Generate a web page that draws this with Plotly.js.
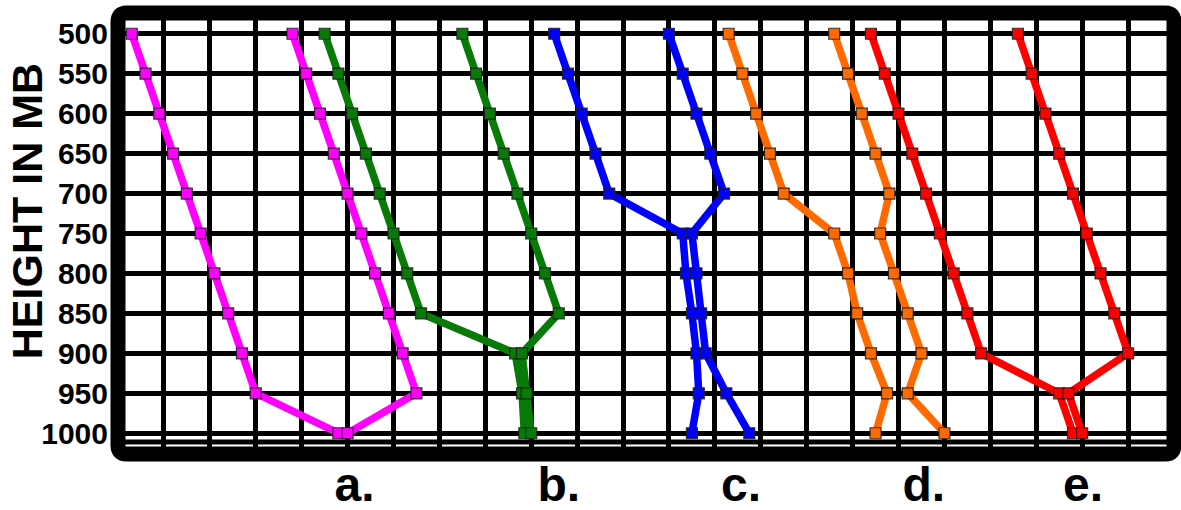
<!DOCTYPE html>
<html lang="en">
<head>
  <meta charset="UTF-8">
  <title>Height in MB soundings</title>
  <script src="https://cdn.plot.ly/plotly-3.0.1.min.js"></script>
  <style>
    body {
      margin: 0;
      background-color: #ffffff;
      font-family: "Liberation Sans", Arial, sans-serif;
    }
    #chart {
      width: 1181px;
      height: 510px;
    }
  </style>
</head>
<body>
  <div id="chart"></div>

  <script>
    // Pressure levels (mb), top of chart to bottom
    const levels = [500, 550, 600, 650, 700, 750, 800, 850, 900, 950, 1000];

    // Horizontal values in grid squares, one pair of curves per panel
    const aLeft  = [-0.7, -0.4, -0.1, 0.2, 0.5, 0.8, 1.1, 1.4, 1.7, 2.0, 3.8];
    const aRight = [2.8, 3.1, 3.4, 3.7, 4.0, 4.3, 4.6, 4.9, 5.2, 5.5, 4.0];
    const bLeft  = [3.5, 3.8, 4.1, 4.4, 4.7, 5.0, 5.3, 5.6, 7.65, 7.8, 7.85];
    const bRight = [6.5, 6.8, 7.1, 7.4, 7.7, 8.0, 8.3, 8.6, 7.8, 7.9, 8.0];
    const cLeft  = [8.5, 8.8, 9.1, 9.4, 9.7, 11.3, 11.37, 11.5, 11.6, 11.65, 11.5];
    const cRight = [11.0, 11.3, 11.6, 11.9, 12.2, 11.5, 11.6, 11.7, 11.8, 12.25, 12.75];
    const dLeft  = [12.3, 12.6, 12.9, 13.2, 13.5, 14.6, 14.9, 15.1, 15.4, 15.75, 15.5];
    const dRight = [14.6, 14.9, 15.2, 15.5, 15.8, 15.6, 15.9, 16.2, 16.5, 16.2, 17.0];
    const eLeft  = [15.4, 15.7, 16.0, 16.3, 16.6, 16.9, 17.2, 17.5, 17.8, 19.5, 19.8];
    const eRight = [18.6, 18.9, 19.2, 19.5, 19.8, 20.1, 20.4, 20.7, 21.0, 19.7, 20.0];

    // Panel labels along the bottom
    const panelLabels = ["a.", "b.", "c.", "d.", "e."];
    const panelPos = [4.15, 8.6, 12.57, 16.55, 20.02];

    const yTicks = [500, 550, 600, 650, 700, 750, 800, 850, 900, 950, 1000];

    const series = [
      { x: aLeft, color: "#ff00ff" },
      { x: aRight, color: "#ff00ff" },
      { x: bLeft, color: "#087a08" },
      { x: bRight, color: "#087a08" },
      { x: cLeft, color: "#0000ff" },
      { x: cRight, color: "#0000ff" },
      { x: dLeft, color: "#ff6a00" },
      { x: dRight, color: "#ff6a00" },
      { x: eLeft, color: "#ff0000" },
      { x: eRight, color: "#ff0000" },
    ];

    const traces = series.map((s) => ({
      x: s.x,
      y: levels,
      type: "scatter",
      mode: "lines+markers",
      line: { color: s.color, width: 7.5 },
      marker: {
        symbol: "square",
        size: 11,
        color: s.color,
        line: { color: "rgba(30,30,30,0.85)", width: 1.2 },
      },
      hoverinfo: "skip",
    }));

    // invisible trace so the label axis gets drawn
    traces.push({ x: panelPos, y: [1000, 1000, 1000, 1000, 1000], xaxis: "x2", mode: "markers", marker: { opacity: 0 }, hoverinfo: "skip" });

    const font = "Liberation Sans, Arial, sans-serif";
    const gridW = 5;

    const layout = {
      width: 1181,
      height: 510,
      margin: { l: 118, r: 7, t: 13, b: 56 },
      paper_bgcolor: "#ffffff",
      plot_bgcolor: "#ffffff",
      showlegend: false,
      xaxis: {
        range: [-1, 22],
        dtick: 1,
        tick0: 0,
        showgrid: true,
        gridcolor: "#000000",
        gridwidth: gridW,
        zeroline: false,
        showticklabels: false,
        ticks: "",
      },
      xaxis2: {
        overlaying: "x",
        side: "bottom",
        range: [-1, 22],
        tickmode: "array",
        tickvals: panelPos,
        ticktext: panelLabels,
        showgrid: false,
        zeroline: false,
        ticks: "",
        ticklabelstandoff: -2,
        tickfont: { family: font, size: 48, color: "#000000", weight: "bold" },
      },
      yaxis: {
        range: [1026, 474],
        tickmode: "array",
        tickvals: yTicks,
        showgrid: true,
        gridcolor: "#000000",
        gridwidth: gridW,
        zeroline: false,
        ticks: "",
        ticklabelstandoff: 9,
        tickfont: { family: font, size: 30, color: "#000000", weight: "bold" },
      },
      shapes: [
        // extra rule just below 1000 mb
        { type: "line", xref: "paper", x0: 0, x1: 1, yref: "y", y0: 1011, y1: 1011, line: { color: "#000000", width: gridW }, layer: "below" },
        // heavy frame with slightly rounded corners
        {
          type: "path",
          xref: "paper",
          yref: "paper",
          path: "M 0,0.02 L 0,0.98 Q 0,1 0.008,1 L 0.992,1 Q 1,1 1,0.98 L 1,0.02 Q 1,0 0.992,0 L 0.008,0 Q 0,0 0,0.02 Z",
          line: { color: "#000000", width: 15 },
          layer: "above",
        },
      ],
      annotations: [
        {
          text: "HEIGHT IN MB",
          xref: "paper",
          yref: "paper",
          x: -0.086,
          y: 0.551,
          xanchor: "center",
          yanchor: "middle",
          textangle: -90,
          showarrow: false,
          font: { family: font, size: 43, color: "#000000", weight: "bold" },
        },
      ],
    };

    Plotly.newPlot("chart", traces, layout, { displayModeBar: false, staticPlot: true });
  </script>
</body>
</html>
